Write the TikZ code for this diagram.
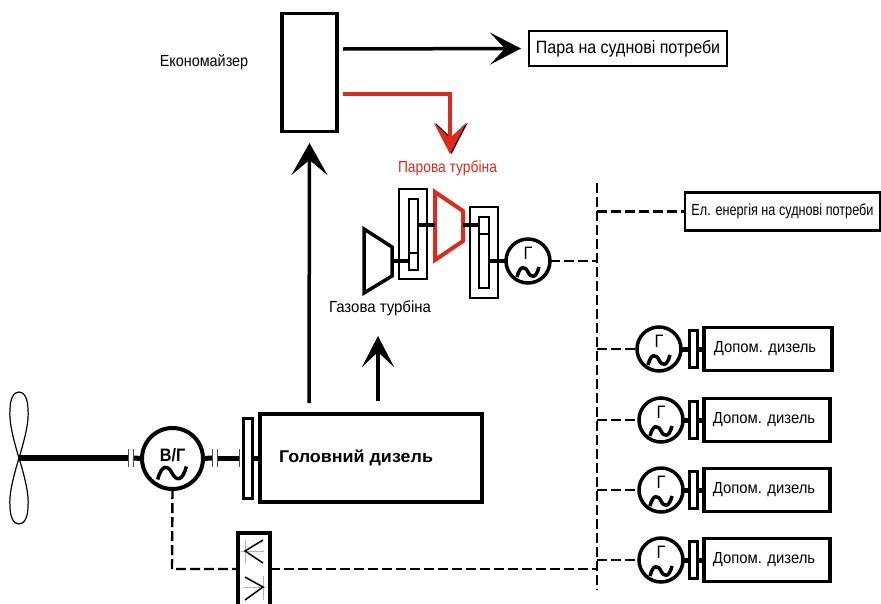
\documentclass[tikz,border=0pt]{standalone}
\usepackage{fontspec}
\setmainfont[FakeStretch=0.9]{Liberation Sans}
\usetikzlibrary{arrows.meta}
\definecolor{steamred}{HTML}{DD2A1B}

\begin{document}
\begin{tikzpicture}[
  x=1pt, y=-1pt,
  every node/.style={font=\fontsize{16}{19}\selectfont, inner sep=0pt, outer sep=0pt},
  box/.style={draw, line width=3.5pt, align=center},
  flange/.style={draw, line width=2.5pt},
  gen/.style={draw, circle, line width=3.5pt, minimum size=44pt},
  genlabel/.style={font=\fontsize{18}{20}\selectfont},
  shaft/.style={line width=5pt},
  trubka/.style={line width=3.5pt},
  elec/.style={line width=2.4pt, dash pattern=on 10pt off 4pt},
  couple/.style={line width=1pt, draw=black!70},
  bigtip/.style={-{Stealth[length=31pt, width=32pt, inset=15pt]}},
  longtip/.style={-{Stealth[length=32pt, width=36pt, inset=15pt]}},
  hvylia/.pic={\draw[line width=3.5pt] (-11,5) .. controls (-8,-7) and (-3,-6) .. (0,0) .. controls (3,6) and (8,7) .. (11,-5);}
]
\clip (0,0) rectangle (881,603);

% utilizer and steam
\node[box, minimum width=55pt, minimum height=118pt] (ekon) at (309.5,72.5) {};
\node (ekonlabel) at (204,62) {Економайзер};
\node[box, line width=2.5pt, minimum width=198pt, minimum height=35pt, font=\fontsize{17.8}{20}\selectfont] (para) at (628,48.5) {Пара на суднові потреби};
\coordinate (parastart) at (343,49);
\coordinate (redstart) at (343,94);
\coordinate (redcorner) at (450,94);
\coordinate (redmid) at (451.5,140);
\coordinate (redend) at (450,154);
\draw[trubka, bigtip] (parastart) -- (para.west -| 521,49);
\draw[line width=.1pt, bigtip, black] (redmid) -- ([xshift=1.5pt]redend);
\draw[trubka, line width=4pt, bigtip, steamred] (redstart) -- (redcorner) -- (redend);
\node[text=steamred] (parlabel) at (447.5,168) {\scalebox{.96}[1]{Парова турбіна}};

% turbines
\draw[line width=3.5pt, line join=miter] (364,229) -- (392,247) -- (392,276) -- (364,293) -- cycle;
\draw[line width=4pt, steamred] (435,192) -- (463,211) -- (463,241) -- (435,260) -- cycle;
\coordinate (gasout) at (392,261);
\coordinate (steamin) at (435,225);
\coordinate (steamout) at (463,225);
\node (gaslabel) at (380,308) {\scalebox{1.04}[1]{Газова турбіна}};

\node[flange, minimum width=28pt, minimum height=90pt] (redone) at (413,234) {};
\node[flange, minimum width=9pt, minimum height=71pt] (wheelone) at (413.5,234.5) {};
\draw[line width=2pt] (wheelone.west |- 0,253) -- (wheelone.east |- 0,253);
\node[flange, minimum width=28pt, minimum height=91pt] (redtwo) at (484,252.5) {};
\node[flange, minimum width=10pt, minimum height=71pt] (wheeltwo) at (484,252.5) {};
\draw[line width=2pt] (wheeltwo.west |- 0,234) -- (wheeltwo.east |- 0,234);

\node[gen] (turbgen) at (528,261) {};
\node[genlabel] (turbgenlabel) at (528,253) {Г};
\pic at (528,272) {hvylia};

\draw[shaft, line width=4pt] (gasout) -- (wheelone.west |- gasout);
\draw[shaft, line width=4pt] (wheelone.east |- steamin) -- (steamin);
\draw[shaft, line width=4pt] (steamout) -- (wheeltwo.west |- steamout);
\draw[shaft, line width=4pt] (wheeltwo.east |- turbgen) -- (turbgen.west);

% electric bus
\coordinate (bustop) at (597,183);
\coordinate (busbot) at (597,590);
\draw[elec] (bustop) -- (busbot);
\node[box, line width=2.5pt, minimum width=195pt, minimum height=38pt] (elbox) at (782.5,211.5) {\scalebox{.88}[1]{Ел. енергія на суднові потреби}};
\draw[elec] (turbgen.east) -- (bustop |- turbgen);
\draw[elec] (bustop |- elbox) -- (elbox.west);

% main engine
\node[box, line width=4pt, minimum width=222pt, minimum height=88pt] (golov) at (371,458) {};
\node[font=\fontsize{17}{19}\selectfont\bfseries] (golovlabel) at (356,458) {\scalebox{1.17}[1]{Головний дизель}};
\node[flange, line width=3pt, minimum width=9pt, minimum height=80pt] (golovfl) at (247.5,458) {};
\coordinate (gasup) at (378,401);
\coordinate (gasuptip) at (378,336);
\coordinate (exup) at (309,403);
\draw[trubka, bigtip] (gasup) -- (gasuptip);
\draw[trubka, longtip] (exup) -- (ekon.south |- 0,143);
\draw[shaft] (golovfl.east) -- (golov.west);

% propeller
\coordinate (hub) at (19,458);
\foreach \s in {1,-1}
  \draw[line width=1.2pt, shift={(19,458)}, yscale=\s]
    (0,0) .. controls (-7,-23) and (-10,-38) .. (-9,-48) .. controls (-9,-60) and (-5,-66) .. (0,-66)
    .. controls (5,-66) and (9,-60) .. (9,-48) .. controls (10,-38) and (7,-23) .. (0,0);

% shaft generator
\node[gen, minimum size=61pt, line width=4pt] (valgen) at (172.5,458.5) {};
\node[font=\fontsize{18}{20}\selectfont\bfseries] (valgenlabel) at (172.5,455) {В/Г};
\pic[scale=1.3] at (172,473) {hvylia};
\coordinate (cplone) at (128,458);
\coordinate (cpltwo) at (133,458);
\coordinate (cplthree) at (212,458);
\coordinate (cplfour) at (217,458);
\coordinate (cplfive) at (239,458);
\draw[shaft, line width=6pt] (hub) -- (cplone);
\draw[shaft] (cpltwo) -- (valgen.west);
\draw[shaft] (valgen.east) -- (cplthree);
\draw[shaft] (cplfour) -- (cplfive);
\foreach \c in {cplone,cpltwo,cplthree,cplfour,cplfive}
  \draw[couple] ([yshift=9pt]\c) -- ([yshift=-9pt]\c);

% converter
\node[box, minimum width=32pt, minimum height=80pt] (conv) at (254,573) {};
\draw[line width=.5pt, black!30] (245,540) -- (245,563) (241,551) -- (264,551) (263,576) -- (263,600) (243,587) -- (266,587);
\draw[line width=1.5pt] (263,540) -- (245,551) -- (263,563);
\draw[line width=1.5pt] (245,577) -- (263,587) -- (245,600);
\coordinate (convline) at (0,569);
\draw[elec] (valgen.south) -- (172,569) -- (conv.west |- convline);
\draw[elec] (conv.east |- convline) -- (bustop |- convline);

% auxiliary sets
\foreach \n/\gx/\gy/\bw in {a/659/349/128, b/661/420/126, c/661/490/126, d/661/560/126} {
  \node[gen] (gen\n) at (\gx,\gy) {};
  \node[genlabel] (gen\n label) at (\gx,\gy-8) {Г};
  \pic at (\gx,\gy+11) {hvylia};
  \node[box, minimum width=\bw pt, minimum height=43pt, anchor=west] (dop\n) at (704,\gy) {\hspace{-6pt}\scalebox{1.03}[1]{Допом. дизель}};
  \node[flange, minimum width=8pt, minimum height=37pt] (fl\n) at (693.5,\gy) {};
  \draw[shaft] (gen\n.east) -- (fl\n.west);
  \draw[shaft] (fl\n.east) -- (dop\n.west);
  \draw[elec] (bustop |- gen\n) -- (gen\n.west);
}
\end{tikzpicture}
\end{document}
